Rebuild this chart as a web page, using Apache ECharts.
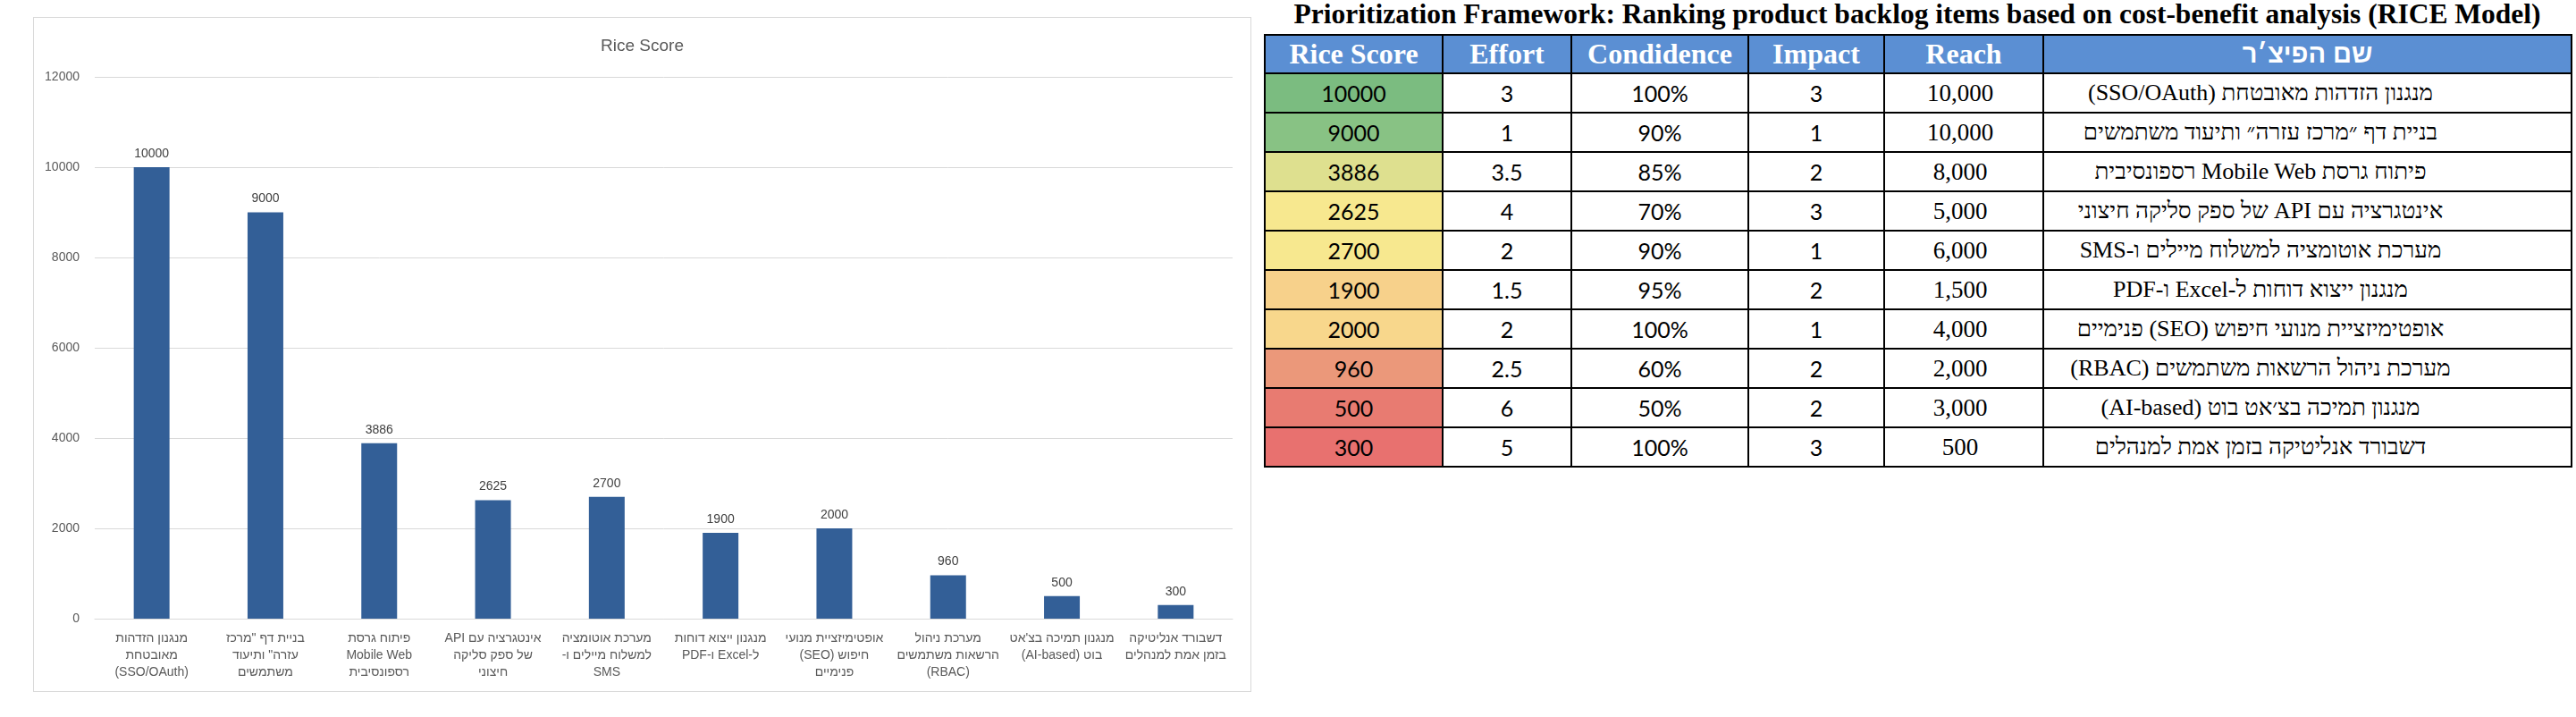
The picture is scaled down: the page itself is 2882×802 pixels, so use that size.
<!doctype html>
<html>
<head>
<meta charset="utf-8">
<title>Rice Score</title>
<script src="https://cdn.jsdelivr.net/npm/echarts@6/dist/echarts.min.js"></script>
<style>
  html, body { margin: 0; padding: 0; background: #fff; width: 2882px; height: 802px; overflow: hidden; }
  #chart { position: absolute; left: 37px; top: 19px; width: 1363px; height: 755px; border: 1px solid #d9d9d9; box-sizing: border-box; }
  #tableTitle { position: absolute; left: 1414px; top: -3px; width: 1462px; text-align: center;
    font: bold 31.5px "Liberation Serif", "Times New Roman", serif; color: #000; line-height: 38px; white-space: nowrap; }
  #rice { position: absolute; left: 1414px; top: 38px; border-collapse: collapse; table-layout: fixed; }
  #rice td, #rice th { border: 2px solid #000; padding: 0; text-align: center; vertical-align: middle; }
  #rice th { background: #5b8fd3; color: #fff; height: 41px; font: bold 32px "Liberation Serif", "Times New Roman", serif; }
  #rice th.he { font: bold 29px "Liberation Sans", Arial, sans-serif; }
  #rice td { height: 42px; font: 25px Lato, "Open Sans", sans-serif; color: #000; }
  #rice td.reach { font: 27px "Liberation Serif", "Times New Roman", serif; padding-right: 8px; }
  #rice td.name { font: 26px "Liberation Serif", "Times New Roman", serif; padding-right: 105px; }
</style>
</head>
<body>
<div id="chart" dir="rtl"></div>
<div id="tableTitle">Prioritization Framework: Ranking product backlog items based on cost-benefit analysis (RICE Model)</div>
<table id="rice"></table>
<script>
  // נתונים
  var features = [
    'מנגנון הזדהות מאובטחת (SSO/OAuth)',
    'בניית דף ״מרכז עזרה״ ותיעוד משתמשים',
    'פיתוח גרסת Mobile Web רספונסיבית',
    'אינטגרציה עם API של ספק סליקה חיצוני',
    'מערכת אוטומציה למשלוח מיילים ו-SMS',
    'מנגנון ייצוא דוחות ל-Excel ו-PDF',
    'אופטימיזציית מנועי חיפוש (SEO) פנימיים',
    'מערכת ניהול הרשאות משתמשים (RBAC)',
    'מנגנון תמיכה בצ׳אט בוט (AI-based)',
    'דשבורד אנליטיקה בזמן אמת למנהלים'
  ];
  var chartLabels = [
    'מנגנון הזדהות\nמאובטחת\n(SSO/OAuth)',
    'בניית דף "מרכז\nעזרה" ותיעוד\nמשתמשים',
    'פיתוח גרסת\nMobile Web\nרספונסיבית',
    'אינטגרציה עם API\nשל ספק סליקה\nחיצוני',
    'מערכת אוטומציה\nלמשלוח מיילים ו-\nSMS',
    'מנגנון ייצוא דוחות\nל-Excel ו-PDF',
    'אופטימיזציית מנועי\nחיפוש (SEO)\nפנימיים',
    'מערכת ניהול\nהרשאות משתמשים\n(RBAC)',
    'מנגנון תמיכה בצ\'אט\nבוט (AI-based)',
    'דשבורד אנליטיקה\nבזמן אמת למנהלים'
  ];
  var riceScore = [10000, 9000, 3886, 2625, 2700, 1900, 2000, 960, 500, 300];
  var effort = [3, 1, 3.5, 4, 2, 1.5, 2, 2.5, 6, 5];
  var confidence = [100, 90, 85, 70, 90, 95, 100, 60, 50, 100];
  var impact = [3, 1, 2, 3, 1, 2, 1, 2, 2, 3];
  var reach = [10000, 10000, 8000, 5000, 6000, 1500, 4000, 2000, 3000, 500];
  var headers = ['Rice Score', 'Effort', 'Condidence', 'Impact', 'Reach', 'שם הפיצ׳ר'];
  var colWidths = [199, 144, 198, 152, 178, 591];
  var scoreColors = ['#7bbc80', '#88c284', '#dee08f', '#f7e88f', '#f7e88f',
                     '#f7d18b', '#f8d78c', '#eb987a', '#e87b71', '#e8716f'];

  // טבלה
  var html = '<colgroup>';
  for (var c = 0; c < colWidths.length; c++) html += '<col style="width:' + colWidths[c] + 'px">';
  html += '</colgroup><tr>';
  for (var h = 0; h < headers.length; h++) {
    html += '<th' + (h === 5 ? ' class="he" dir="rtl"' : '') + '>' + headers[h] + '</th>';
  }
  html += '</tr>';
  for (var i = 0; i < features.length; i++) {
    html += '<tr>' +
      '<td style="background:' + scoreColors[i] + '">' + riceScore[i] + '</td>' +
      '<td>' + effort[i] + '</td>' +
      '<td>' + confidence[i] + '%</td>' +
      '<td>' + impact[i] + '</td>' +
      '<td class="reach">' + reach[i].toLocaleString('en-US') + '</td>' +
      '<td class="name" dir="rtl">' + features[i] + '</td>' +
      '</tr>';
  }
  document.getElementById('rice').innerHTML = html;

  // גרף
  var font = '"Liberation Sans Narrow", "Liberation Sans", Arial, sans-serif';
  var myChart = echarts.init(document.getElementById('chart'));
  var option = {
    animation: false,
    title: {
      text: 'Rice Score',
      left: 'center',
      top: 17,
      textStyle: { color: '#595959', fontSize: 19, fontWeight: 'normal', fontFamily: font }
    },
    grid: { left: 68, right: 20, top: 66, bottom: 81, containLabel: false },
    xAxis: {
      type: 'category',
      data: chartLabels,
      axisLine: { lineStyle: { color: '#d9d9d9', width: 1 } },
      axisTick: { show: false },
      axisLabel: { interval: 0, color: '#595959', fontSize: 14, lineHeight: 19, margin: 13, fontFamily: font }
    },
    yAxis: {
      type: 'value',
      min: 0,
      max: 12000,
      interval: 2000,
      axisLine: { show: false },
      axisTick: { show: false },
      axisLabel: {
        color: '#595959', fontSize: 14, margin: 17, fontFamily: font,
        formatter: function (v) { return String(v); }
      },
      splitLine: { lineStyle: { color: '#d9d9d9', width: 1 } }
    },
    series: [{
      type: 'bar',
      data: riceScore,
      barWidth: 40,
      itemStyle: { color: '#335f97' },
      label: { show: true, position: 'top', distance: 8, color: '#404040', fontSize: 14, fontFamily: font }
    }]
  };
  myChart.setOption(option);
</script>
</body>
</html>
